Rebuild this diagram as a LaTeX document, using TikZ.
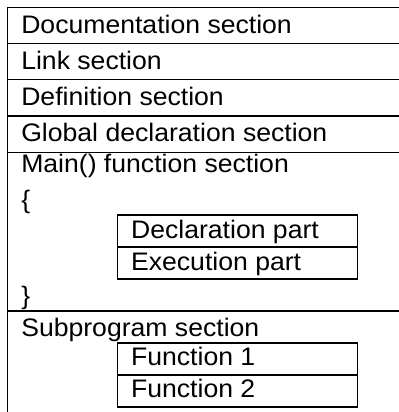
\documentclass[tikz,border=0pt]{standalone}
\usepackage{fontspec}
\setmainfont{Liberation Sans}[FakeStretch=1.05]
\usepackage{tikz}
\usetikzlibrary{positioning}

\begin{document}
\begin{tikzpicture}[
    x=0.75pt, y=-0.75pt,
    frame/.style={draw=black, line width=1.4pt},
    partbox/.style={rectangle, draw=black, line width=1.4pt, minimum width=180pt, minimum height=24pt, anchor=north west, inner sep=0pt, outer sep=0pt},
    txt/.style={anchor=base west, inner sep=0pt, font=\fontsize{19}{22}\selectfont}
]
\useasboundingbox (0,0) rectangle (399,412);
\clip (0,0) rectangle (399,412);

% Outer sections
\foreach \top/\bot in {7.5/43.5, 43.5/79.5, 79.5/116, 116/152.5, 152.5/311, 311/440}
    \draw[frame] (7.5,\top) rectangle (430,\bot);

\node[txt] (doc) at (21,33.3) {Documentation section};
\node[txt] (link) at (21,69.3) {Link section};
\node[txt] (defn) at (21,105.3) {Definition section};
\node[txt] (glob) at (21,141.8) {Global declaration section};

% Main function
\node[txt] (mainsec) at (21,172) {Main() function section};
\node[txt] (open) at (21,208) {\{};
\node[partbox] (decl) at (117.5,215) {};
\node[partbox, below=0pt of decl] (exec) {};
\node[txt] at ([xshift=10pt, yshift=6.75pt]decl.south west) (decltxt) {Declaration part};
\node[txt] at ([xshift=10pt, yshift=6.75pt]exec.south west) (exectxt) {Execution part};
\node[txt] (close) at (21,304) {\}};

% Subprograms
\node[txt] (subsec) at (21,336.7) {Subprogram section};
\node[partbox] (fone) at (117.5,342.7) {};
\node[partbox, below=0pt of fone] (ftwo) {};
\node[txt] at ([xshift=10pt, yshift=6.75pt]fone.south west) (fonetxt) {Function 1};
\node[txt] at ([xshift=10pt, yshift=6.75pt]ftwo.south west) (ftwotxt) {Function 2};

\end{tikzpicture}
\end{document}
